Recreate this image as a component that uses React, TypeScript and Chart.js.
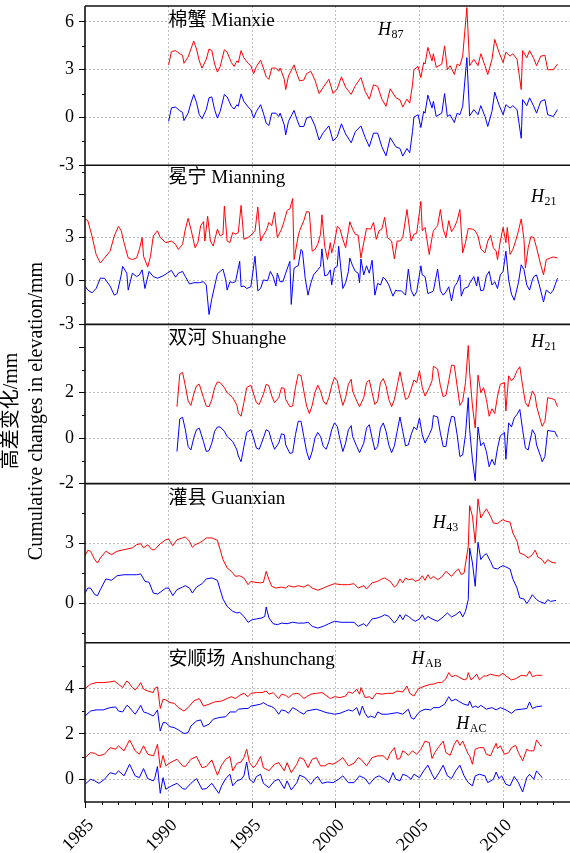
import React, { useEffect, useRef } from 'react';
import { Chart, registerables } from 'chart.js';

Chart.register(...registerables);

// ---------- axes ----------
const BASE_YEAR = 1985; // month indices below are counted from Jan 1985
const X_MIN = 1985;
const X_MAX = 2014;
const X_TICKS = [1985, 1990, 1995, 2000, 2005, 2010];

// ---------- panel 1: 棉蟹 Mianxie ----------
const mianxieMonths = [60,62,65,68,70,71,74,76,78,80,82,84,87,89,91,93,95,97,100,102,105,107,109,110,112,114,117,119,121,123,126,128,130,132,134,137,139,140,143,144,146,150,152,154,157,159,162,165,168,171,175,178,181,184,187,191,194,198,201,204,207,210,213,216,219,223,226,228,231,233,235,236,239,241,243,244,246,249,250,252,254,256,258,260,262,265,267,269,271,274,276,279,282,284,287,289,292,294,297,300,302,305,307,310,313,314,317,319,322,324,327,330,332,336,339];
const mianxieRed = [3.3,4.14,4.2,4.0,3.9,3.4,3.8,4.3,4.8,4.3,3.55,3.1,3.65,4.3,4.2,3.35,2.85,3.2,4.25,4.1,3.45,3.2,3.55,3.45,4.2,3.75,3.4,3.25,2.75,3.2,3.6,3.1,2.55,2.4,3.1,3.1,2.9,3.1,2.4,1.75,2.6,3.3,2.75,2.3,2.35,2.75,2.9,2.35,1.5,1.9,2.4,1.5,1.8,2.55,1.9,1.45,2.0,2.5,1.65,1.15,2.05,1.95,1.15,0.7,1.8,1.25,1.1,0.65,1.15,0.9,2.05,3.0,3.2,2.5,3.45,3.35,4.4,3.55,4.0,3.15,3.25,3.35,4.5,3.0,3.25,2.7,3.35,3.25,3.85,6.9,3.25,3.65,3.25,4.0,3.25,2.7,3.65,4.9,4.1,3.45,4.1,3.85,4.0,3.65,1.75,4.2,3.75,4.2,3.7,3.25,3.85,3.9,3.0,3.0,3.35];
const mianxieBlue = [-0.25,0.6,0.65,0.42,0.32,-0.2,0.27,0.9,1.44,0.95,0.17,-0.08,0.49,1.23,1.29,0.49,-0.04,0.38,1.44,1.29,0.7,0.53,0.8,0.7,1.48,1.01,0.66,0.49,-0.04,0.38,0.8,0.27,-0.36,-0.5,0.27,0.27,0.06,0.27,-0.47,-1.1,-0.25,0.44,-0.1,-0.57,-0.57,-0.04,0.06,-0.53,-1.42,-0.95,-0.53,-1.48,-1.2,-0.4,-1.04,-1.59,-0.89,-0.53,-1.25,-1.84,-0.99,-0.99,-1.84,-2.41,-1.27,-1.84,-1.95,-2.43,-1.95,-2.22,-0.89,0.02,0.17,-0.63,0.38,0.27,1.4,0.59,1.01,0.06,0.17,0.27,1.5,0.06,0.17,-0.32,0.27,0.17,0.7,3.76,0.1,0.49,0.17,0.74,0.06,-0.57,0.38,1.59,0.8,0.17,0.8,0.59,0.74,0.49,-1.31,1.12,0.74,1.23,0.7,0.27,1.01,1.12,0.17,0.06,0.49];

// ---------- panel 2: 冕宁 Mianning ----------
const mianningRedMonths = [0,2,5,8,11,14,18,21,24,26,28,31,34,37,39,41,42,45,47,49,52,54,58,62,65,67,70,72,74,76,79,81,83,85,86,88,90,92,95,97,99,100,102,104,106,108,110,112,114,117,119,122,124,126,128,130,132,134,136,138,141,143,145,147,149,150,153,154,157,159,161,163,165,167,169,170,172,174,176,177,179,181,183,185,187,189,190,192,194,196,198,200,202,205,207,209,211,213,215,217,220,222,224,226,228,231,234,236,238,241,242,244,247,249,250,253,255,257,259,261,263,265,267,269,271,273,275,278,280,282,284,287,289,291,293,295,296,298,300,302,303,305,307,309,311,313,315,316,318,320,322,324,327,329,331,334,336,339];
const mianningRed = [4.29,4.17,3.11,1.83,1.24,1.59,2.06,3.11,3.77,3.47,2.65,1.59,1.48,1.59,2.18,3.0,1.71,0.96,1.71,3.11,3.47,3.0,2.65,2.76,2.53,2.18,2.53,3.58,4.33,3.58,2.3,2.65,3.82,4.1,2.76,4.47,2.76,2.41,3.58,3.11,3.23,5.18,2.76,2.65,3.35,3.23,3.35,5.22,2.88,3.0,3.16,3.47,5.11,2.76,3.16,3.47,4.05,3.82,4.75,3.0,3.58,4.17,4.87,4.99,5.69,1.48,3.11,3.47,4.17,4.8,4.75,2.06,2.18,2.53,3.23,4.57,2.41,1.48,2.65,1.94,2.65,3.77,3.58,2.88,2.3,3.47,4.1,3.58,3.23,3.16,1.59,2.65,3.63,3.58,4.05,2.88,3.47,3.58,4.4,3.0,2.76,1.52,2.76,2.76,3.0,4.94,2.76,3.23,3.3,5.5,3.47,3.7,1.83,3.0,3.47,3.82,4.94,3.58,3.0,4.17,3.4,3.7,4.17,4.94,1.94,2.65,3.63,3.58,3.47,3.11,2.22,1.94,2.76,3.16,2.3,2.06,1.48,2.76,3.7,2.65,3.7,1.83,2.18,2.76,3.47,4.29,2.88,0.89,2.3,3.07,3.0,2.3,1.12,0.42,1.48,1.59,1.66,1.59];
const mianningBlueMonths = [0,2,5,8,11,14,18,21,23,26,27,30,31,34,37,39,41,43,46,49,52,56,59,62,65,67,70,72,75,78,82,85,87,89,91,95,97,99,101,102,104,106,108,111,112,114,116,119,122,124,126,128,131,133,135,137,138,140,142,144,147,148,150,152,153,155,156,158,160,162,164,167,169,170,172,174,176,177,179,181,182,185,187,189,190,192,194,196,197,198,200,202,204,206,208,210,212,214,216,218,221,223,224,227,230,232,234,236,238,241,242,244,246,249,250,253,255,257,259,261,263,265,267,269,270,272,275,276,279,281,282,284,286,288,290,292,294,296,298,300,302,304,306,308,311,313,315,317,319,321,322,324,326,329,331,334,336,339];
const mianningBlue = [-0.35,-0.63,-0.82,-0.52,0.19,0.19,-0.35,-0.98,-0.87,0.42,1.01,0.54,-0.63,0.54,0.3,0.42,0.77,-0.52,0.66,0.3,0.19,0.35,0.54,0.73,0.26,0.54,0.66,0.3,-0.21,-0.12,-0.12,-0.05,-0.28,-2.32,-1.22,0.49,0.66,0.82,0.07,-0.63,-0.05,-0.12,-0.05,1.36,-0.4,-0.35,-0.52,-0.4,1.71,-0.68,-0.52,0.07,0.02,0.66,0.3,-0.35,0.54,-0.05,-0.05,0.54,1.36,-1.62,0.89,1.01,1.05,2.18,2.06,0.19,-0.98,-0.16,0.42,0.77,1.01,2.22,0.35,0.42,0.77,-0.28,0.89,1.01,2.41,-0.52,-0.12,0.66,1.59,1.05,0.66,0.54,-0.12,1.52,0.42,1.05,0.54,1.43,-0.98,-0.16,-0.28,0.26,0.07,-0.28,-1.05,-0.63,-0.68,-0.68,-0.98,0.82,-0.63,-1.05,-0.75,1.05,0.42,0.3,-0.87,-0.75,-0.68,0.82,-0.68,-0.98,-0.75,-0.4,-1.38,-0.4,-0.12,0.42,-1.05,-0.52,-0.4,-0.16,0.3,-0.35,0.3,-0.68,-0.63,0.35,0.66,-0.28,-0.05,-0.52,0.42,0.66,2.06,0.07,-0.91,-1.33,-0.12,1.12,0.77,-0.28,-0.63,0.07,0.3,0.42,-0.28,-1.45,-0.63,-0.87,-0.63,0.19];

// ---------- panel 3: 双河 Shuanghe ----------
const shuangheMonths = [66,68,70,72,74,76,78,80,82,85,87,89,91,93,95,97,100,102,106,109,110,112,114,116,119,121,123,125,128,130,132,134,136,139,141,143,144,147,149,151,153,155,157,159,161,163,165,167,169,171,173,175,177,179,181,183,185,187,189,191,192,195,197,200,202,204,206,208,210,212,214,216,218,220,222,224,226,228,230,232,234,236,238,240,242,244,247,249,250,253,255,257,259,261,263,265,267,269,271,273,275,276,278,280,282,284,286,288,290,292,294,296,298,301,302,304,306,308,310,312,314,316,318,321,323,324,327,328,330,332,335,337,339];
const shuangheRed = [1.38,2.81,2.89,2.3,1.63,1.44,1.93,2.3,2.37,1.78,1.41,1.38,1.7,2.22,2.47,2.44,2.22,2.0,1.78,1.44,1.11,0.96,1.56,2.22,2.33,1.93,1.56,1.48,1.93,2.37,2.3,1.85,1.56,1.78,2.22,2.18,1.7,1.38,1.41,2.22,2.81,2.74,2.07,1.41,1.08,1.44,2.0,2.33,2.07,1.63,1.48,1.78,2.3,2.67,2.52,1.93,1.44,1.78,2.37,2.59,2.07,1.63,1.38,1.78,2.44,2.55,2.0,1.48,1.63,2.44,2.62,2.3,1.7,1.38,1.7,2.3,2.92,2.3,1.7,1.78,2.15,2.56,2.44,2.96,2.22,1.85,2.22,2.52,3.16,3.04,2.3,1.82,1.88,2.52,3.21,3.19,2.3,1.44,1.63,2.44,4.07,2.89,1.41,0.44,2.77,2.0,2.22,1.7,0.96,1.29,1.08,1.85,2.37,2.44,1.19,2.74,2.52,2.67,2.96,3.14,2.3,1.56,1.38,2.07,1.85,1.41,0.74,0.52,0.74,1.78,1.73,1.7,1.38];
const shuangheBlue = [-0.59,0.84,0.92,0.37,-0.37,-0.52,0.0,0.37,0.44,-0.15,-0.59,-0.55,-0.22,0.3,0.49,0.49,0.3,0.07,-0.15,-0.52,-0.79,-1.04,-0.37,0.25,0.37,0.0,-0.44,-0.49,0.0,0.37,0.3,-0.15,-0.49,-0.22,0.19,0.15,-0.3,-0.67,-0.64,0.15,0.74,0.74,0.07,-0.59,-0.96,-0.59,0.0,0.25,0.07,-0.37,-0.49,-0.15,0.37,0.67,0.52,-0.07,-0.59,-0.22,0.37,0.55,0.07,-0.37,-0.64,-0.22,0.44,0.59,0.0,-0.52,-0.37,0.44,0.67,0.3,-0.3,-0.64,-0.34,0.3,0.93,0.3,-0.34,-0.3,0.15,0.49,0.37,0.89,0.15,-0.22,0.15,0.44,0.99,0.93,0.22,-0.37,-0.37,0.44,0.96,0.93,0.15,-0.81,-0.74,0.15,1.78,0.37,-0.96,-1.88,0.49,-0.34,-0.19,-0.59,-1.26,-0.93,-1.19,-0.44,0.1,0.25,-0.93,0.67,0.49,0.89,1.04,1.26,0.37,-0.44,-0.52,0.37,0.15,-0.3,-0.81,-1.04,-0.81,0.34,0.3,0.3,0.04];

// ---------- panel 4: 灌县 Guanxian ----------
const guanxianRedMonths = [0,2,4,7,9,11,15,19,23,28,34,37,40,42,45,48,50,54,58,60,63,66,70,72,75,77,79,82,84,87,91,95,97,99,102,105,108,111,114,117,119,122,126,128,130,132,134,137,141,144,146,150,153,157,160,163,167,171,175,179,184,189,193,196,200,202,206,210,213,215,219,222,224,226,228,230,232,235,237,240,242,244,246,248,250,253,256,259,263,266,268,270,272,275,276,278,280,282,284,286,288,291,293,296,298,300,302,305,307,310,312,315,318,321,323,325,328,330,332,335,338];
const guanxianRed = [2.38,2.65,2.6,2.18,2.01,2.26,2.6,2.43,2.6,2.68,2.77,2.93,2.98,2.77,2.93,2.68,2.68,2.98,3.18,3.22,2.88,3.18,3.27,3.32,3.1,2.8,2.93,3.02,3.1,3.27,3.27,3.15,2.68,2.18,1.76,1.59,1.34,1.37,1.26,0.92,1.09,1.04,1.01,1.04,1.59,1.17,0.84,0.75,0.8,0.75,0.87,0.8,0.87,0.8,0.92,0.75,0.64,0.75,0.87,0.97,0.92,0.92,0.97,0.75,0.87,0.7,1.01,1.09,1.21,1.26,1.09,0.8,0.92,1.21,1.01,1.26,1.17,1.21,1.09,1.17,1.37,1.14,1.42,1.21,1.34,1.17,1.31,1.59,1.34,1.59,1.71,1.42,1.51,2.85,4.89,4.36,3.02,5.23,4.27,4.52,4.73,4.36,4.02,3.99,4.11,4.19,4.11,4.06,3.52,3.1,2.51,2.43,2.26,2.43,2.65,2.31,2.18,1.98,2.18,2.04,2.01];
const guanxianBlueMonths = [0,2,4,7,9,11,15,19,23,28,34,37,40,43,46,49,52,54,58,60,63,66,70,72,75,77,80,84,87,91,95,97,99,102,106,109,111,114,117,120,123,127,129,130,132,135,138,141,145,149,153,157,160,163,167,171,175,179,184,189,193,196,200,202,206,210,213,215,218,222,224,226,228,230,232,235,237,240,242,244,246,249,253,257,260,263,266,269,271,273,275,276,278,280,282,284,286,288,291,293,296,298,300,302,305,307,310,312,315,317,319,321,324,326,330,332,334,338];
const guanxianBlue = [0.5,0.75,0.75,0.42,0.37,0.67,1.21,1.14,1.37,1.42,1.42,1.42,1.46,1.09,1.04,0.5,0.45,0.54,0.75,0.75,0.37,0.67,0.8,0.87,0.75,0.5,0.8,0.97,1.21,1.26,1.14,0.67,0.2,-0.17,-0.42,-0.5,-0.47,-0.67,-0.97,-0.84,-0.8,-0.75,-0.67,-0.2,-0.75,-1.04,-1.09,-1.01,-1.04,-0.97,-1.01,-1.01,-0.97,-1.17,-1.26,-1.17,-1.04,-0.92,-0.97,-0.97,-0.97,-1.17,-1.04,-1.17,-0.8,-0.75,-0.67,-0.59,-0.67,-1.01,-0.84,-0.59,-0.84,-0.59,-0.67,-0.84,-0.92,-0.8,-0.59,-0.84,-0.67,-0.8,-0.92,-0.7,-0.5,-0.7,-0.59,-0.42,-0.7,-0.42,0.17,2.77,2.01,0.84,3.05,2.18,2.38,2.48,2.09,1.76,1.71,1.81,1.88,1.81,1.71,1.21,0.75,0.25,0.2,-0.03,0.17,0.42,0.17,0.08,-0.03,0.17,0.08,0.13];

// ---------- panel 5: 安顺场 Anshunchang ----------
const abRedMonths = [0,4,8,13,18,21,24,27,30,31,34,36,38,40,42,45,49,50,52,54,56,58,61,64,67,71,74,78,82,85,89,93,98,102,105,108,111,114,117,119,123,127,130,132,135,139,141,144,146,149,152,154,157,159,162,166,170,173,176,179,183,187,189,192,195,197,198,201,204,206,209,213,217,221,224,228,231,233,236,239,241,244,248,250,253,256,259,261,263,266,269,272,274,275,277,279,281,283,286,288,291,294,297,300,302,306,309,313,317,319,321,324,328];
const abRed = [3.99,4.18,4.25,4.25,4.28,4.32,4.18,4.03,4.32,4.28,4.03,3.93,4.07,4.25,3.96,3.88,3.81,3.99,4.06,3.11,3.52,3.49,3.37,3.34,3.15,3.0,3.15,3.44,3.55,3.22,3.3,3.4,3.44,3.55,3.63,3.55,3.69,3.78,3.63,3.78,3.81,3.81,3.88,3.74,3.81,3.55,3.74,3.69,3.59,3.74,3.78,3.74,3.55,3.63,3.74,3.78,3.81,3.69,3.55,3.63,3.59,3.66,3.84,3.78,3.96,3.74,4.03,3.59,3.63,3.52,3.78,3.74,3.78,3.78,3.88,3.84,4.1,3.78,3.66,3.96,4.03,4.1,4.18,4.18,4.25,4.25,4.42,4.69,4.51,4.57,4.47,4.37,4.42,4.69,4.37,4.47,4.62,4.37,4.54,4.54,4.62,4.57,4.54,4.66,4.54,4.37,4.42,4.57,4.54,4.76,4.51,4.57,4.57];
const abBlueMonths = [0,4,8,13,18,22,24,27,30,31,34,36,38,40,42,45,49,50,52,54,56,58,61,64,67,71,74,76,80,83,85,89,92,96,101,104,108,110,114,117,119,122,126,128,131,134,136,139,141,144,146,149,152,154,157,159,163,166,170,173,176,179,183,187,189,192,195,197,199,201,203,205,208,210,213,217,221,224,228,232,234,236,239,241,244,248,250,254,258,261,263,266,269,272,275,276,278,280,282,284,288,292,295,298,302,306,309,313,317,319,321,324,328];
const abBlue = [2.78,3.0,3.05,3.05,3.15,3.18,3.0,2.96,3.25,3.22,3.0,2.86,3.05,3.25,2.96,2.9,2.78,2.86,3.05,2.12,2.49,2.49,2.31,2.27,2.17,2.01,2.05,2.34,2.56,2.61,2.31,2.42,2.64,2.71,2.75,2.96,2.96,3.08,3.11,3.11,3.22,3.25,3.3,3.37,3.25,3.19,3.11,2.86,3.05,3.0,2.9,3.15,3.05,2.96,2.86,3.0,3.05,3.08,3.0,2.93,2.9,2.86,2.9,3.0,3.05,3.0,3.15,2.81,3.22,2.9,2.71,2.78,2.71,2.96,2.86,2.86,2.9,2.93,2.86,3.08,2.71,2.64,2.9,3.0,3.08,3.05,3.15,3.15,3.3,3.63,3.44,3.52,3.4,3.3,3.25,3.44,3.15,3.22,3.15,3.25,3.08,3.15,3.05,3.15,3.05,2.9,3.05,3.08,3.11,3.4,3.11,3.19,3.22];
const acRedMonths = [0,4,7,10,14,18,22,24,28,32,36,39,42,45,49,50,52,54,56,58,62,66,70,72,76,80,84,87,91,95,98,101,104,106,109,112,114,116,118,121,123,126,128,132,136,139,143,145,148,152,154,157,160,163,166,169,172,175,178,182,185,189,193,196,198,202,206,210,214,217,219,222,224,226,228,230,232,235,238,241,244,247,249,251,254,257,259,262,265,267,269,271,275,276,278,280,283,286,288,291,293,295,296,298,301,304,306,309,311,314,317,319,322,324,327,328];
const acRed = [0.95,1.17,1.14,1.03,1.1,1.39,1.32,1.47,1.25,1.73,1.25,1.1,1.47,1.1,1.03,1.17,1.54,0.51,1.05,0.59,0.76,0.88,0.59,0.56,0.88,1.0,0.51,0.56,0.85,0.18,0.62,0.88,1.0,0.37,0.7,0.76,0.95,1.32,0.73,0.51,0.66,1.0,0.51,0.37,0.66,0.73,0.37,0.73,0.29,0.66,0.95,0.88,0.51,0.88,0.95,0.59,0.59,0.7,0.66,0.81,0.95,0.59,0.7,0.95,0.88,0.59,0.95,1.03,1.03,0.85,1.14,1.39,0.88,0.91,1.25,1.17,1.05,1.25,1.1,1.32,1.68,1.61,0.91,1.17,1.44,1.68,1.17,1.05,1.54,1.73,1.49,1.68,1.1,1.03,0.66,1.32,1.39,1.39,1.1,1.03,1.32,1.58,1.35,1.47,1.1,1.17,1.39,1.49,1.17,0.81,1.32,1.25,1.25,1.73,1.47,1.47];
const acBlueMonths = [0,4,7,10,14,18,22,24,28,32,36,39,42,45,49,50,52,54,56,58,62,66,70,72,76,80,84,87,91,96,98,101,104,106,109,112,114,116,118,121,123,126,128,132,136,139,143,145,148,152,154,158,162,165,167,170,174,178,182,185,189,193,197,201,204,208,211,215,218,221,223,226,228,231,234,236,240,243,246,249,251,254,257,260,263,266,269,272,275,278,280,283,287,289,293,295,297,299,302,305,308,311,314,317,319,322,324,327,328];
const acBlue = [-0.22,0.0,-0.07,-0.18,0.0,0.29,0.22,0.37,0.15,0.66,0.15,0.07,0.47,0.03,-0.07,0.03,0.56,-0.62,0.07,-0.44,-0.29,-0.18,-0.41,-0.44,-0.18,0.03,-0.44,-0.41,-0.18,-0.62,-0.29,0.03,0.22,-0.29,-0.07,0.0,0.15,0.76,0.0,-0.15,0.12,0.22,-0.18,-0.37,-0.07,0.0,-0.41,-0.07,-0.47,-0.15,0.18,0.07,-0.22,0.03,0.12,-0.18,-0.12,-0.15,0.0,0.15,-0.15,-0.15,0.15,0.03,-0.22,0.07,0.15,0.0,-0.15,0.29,0.0,-0.07,0.22,0.15,0.0,0.22,0.07,0.37,0.62,0.22,0.0,0.29,0.62,0.15,0.03,0.37,0.62,0.15,-0.15,-0.29,0.15,0.22,0.15,-0.15,0.0,0.32,0.03,0.15,-0.22,-0.29,0.12,-0.15,-0.56,0.07,0.22,0.0,0.37,0.15,0.07];

// ---------- panel settings ----------
const PANEL_IDS = ['y1', 'y2', 'y3', 'y4', 'y5'];
const panelNames = ['棉蟹 Mianxie', '冕宁 Mianning', '双河 Shuanghe', '灌县 Guanxian', '安顺场 Anshunchang'];
const panelNameValues = [6.04, 7.1, 4.37, 5.24, 5.23];
const panelMin = [-3, -3, -2, -2, -1];
const panelMax = [7, 8, 5, 6, 6];
const panelMajorTicks = [[6, 3, 0, -3], [6, 3, 0, -3], [4, 2, 0, -2], [3, 0], [4, 2, 0]];
const panelHiddenLabels = [[], [6], [4], [], []];
const panelGridValues = [[6, 3, 0], [3, 0], [2, 0], [3, 0], [4, 2, 0]];
const panelMinorTicks = [[4.5, 1.5, -1.5], [7.5, 4.5, 1.5, -1.5], [3, 1, -1], [4.5, 1.5, -1.5], [5, 3, 1]];

// annotation: panel index, year, value (baseline), subscript
const annoPanel = [0, 1, 2, 3, 4, 4];
const annoYear = [2002.52, 2011.67, 2011.67, 2005.8, 2004.53, 2007.2];
const annoValue = [5.17, 5.49, 4.01, 3.78, 5.05, 2.2];
const annoSub = ['87', '21', '21', '43', 'AB', 'AC'];

const RED = '#ff0000';
const BLUE = '#0000ff';
const SERIF = '"Liberation Serif", "Times New Roman", serif';
const MIXED = '"Liberation Serif", "Noto Sans CJK SC", serif';
const GRID_COLOR = '#bdbdbd';

function toPoints(months: number[], values: number[]) {
  return months.map((m, i) => ({ x: BASE_YEAR + m / 12, y: values[i] }));
}

function line(ds: any, color: string, axis: string) {
  return {
    data: ds,
    borderColor: color,
    backgroundColor: color,
    borderWidth: 1,
    pointRadius: 0,
    tension: 0,
    fill: false,
    yAxisID: axis,
  };
}

const decorPlugin = {
  id: 'decor',
  afterDraw(chart: any) {
    const { ctx, chartArea: a } = chart;
    const xs = chart.scales.x;
    ctx.save();
    ctx.strokeStyle = '#000';
    ctx.lineWidth = 1;
    // minor y ticks
    PANEL_IDS.forEach((id, i) => {
      const s = chart.scales[id];
      panelMinorTicks[i].forEach((v) => {
        const y = Math.round(s.getPixelForValue(v)) + 0.5;
        ctx.beginPath();
        ctx.moveTo(a.left - 3, y);
        ctx.lineTo(a.left, y);
        ctx.stroke();
      });
    });
    // minor x ticks
    for (let yr = 1986; yr <= 2013; yr++) {
      if (yr % 5 === 0) continue;
      const x = Math.round(xs.getPixelForValue(yr)) + 0.5;
      ctx.beginPath();
      ctx.moveTo(x, a.bottom);
      ctx.lineTo(x, a.bottom + 3);
      ctx.stroke();
    }
    // frame lines
    ctx.lineWidth = 1.6;
    ctx.strokeStyle = '#111';
    PANEL_IDS.forEach((id) => {
      const s = chart.scales[id];
      ctx.beginPath();
      ctx.moveTo(a.left, s.top);
      ctx.lineTo(a.right, s.top);
      ctx.stroke();
    });
    ctx.beginPath();
    ctx.moveTo(a.left, a.bottom);
    ctx.lineTo(a.right, a.bottom);
    ctx.stroke();
    ctx.beginPath();
    ctx.moveTo(a.left, a.top);
    ctx.lineTo(a.left, a.bottom + 0.8);
    ctx.stroke();

    // panel names
    ctx.fillStyle = '#000';
    ctx.textAlign = 'left';
    ctx.textBaseline = 'middle';
    ctx.font = '19px ' + MIXED;
    PANEL_IDS.forEach((id, i) => {
      const s = chart.scales[id];
      ctx.fillText(panelNames[i], xs.getPixelForValue(1990), s.getPixelForValue(panelNameValues[i]));
    });

    // H annotations
    ctx.textBaseline = 'alphabetic';
    annoSub.forEach((sub, i) => {
      const s = chart.scales[PANEL_IDS[annoPanel[i]]];
      const x = xs.getPixelForValue(annoYear[i]);
      const y = s.getPixelForValue(annoValue[i]);
      ctx.font = 'italic 18px ' + SERIF;
      ctx.fillText('H', x, y);
      const w = ctx.measureText('H').width;
      ctx.font = '12px ' + SERIF;
      ctx.fillText(sub, x + w + 0.5, y + 3);
    });

    // y-axis titles
    ctx.save();
    ctx.translate(12, 411);
    ctx.rotate(-Math.PI / 2);
    ctx.textAlign = 'center';
    ctx.textBaseline = 'middle';
    ctx.font = '20px ' + MIXED;
    ctx.fillText('高差变化/mm', 0, 0);
    ctx.restore();
    ctx.save();
    ctx.translate(37, 411);
    ctx.rotate(-Math.PI / 2);
    ctx.textAlign = 'center';
    ctx.textBaseline = 'middle';
    ctx.font = '20px ' + SERIF;
    ctx.fillText('Cumulative changes in elevation/mm', 0, 0);
    ctx.restore();

    ctx.restore();
  },
};

function buildYScale(i: number) {
  return {
    type: 'linear',
    position: 'left',
    stack: 'panels',
    stackWeight: 1,
    weight: 5 - i,
    min: panelMin[i],
    max: panelMax[i],
    afterBuildTicks: (s: any) => {
      s.ticks = panelMajorTicks[i].map((v) => ({ value: v }));
    },
    afterFit: (s: any) => {
      s.width = 85;
      s.paddingTop = 0;
      s.paddingBottom = 0;
    },
    border: { display: false, dash: [2, 2] },
    grid: {
      color: (c: any) => (c.tick && panelGridValues[i].includes(c.tick.value) ? GRID_COLOR : 'rgba(0,0,0,0)'),
      lineWidth: 1,
      tickLength: 6,
      tickColor: '#000',
      tickWidth: 1,
      tickBorderDash: [],
    },
    ticks: {
      autoSkip: false,
      padding: 5,
      color: '#000',
      font: { family: SERIF, size: 18 },
      callback: (v: any) => (panelHiddenLabels[i].includes(v) ? '' : String(v)),
    },
  };
}

export default function App() {
  const ref = useRef<HTMLCanvasElement | null>(null);

  useEffect(() => {
    if (!ref.current) return;
    const datasets = [
      line(toPoints(mianxieMonths, mianxieRed), RED, 'y1'),
      line(toPoints(mianxieMonths, mianxieBlue), BLUE, 'y1'),
      line(toPoints(mianningRedMonths, mianningRed), RED, 'y2'),
      line(toPoints(mianningBlueMonths, mianningBlue), BLUE, 'y2'),
      line(toPoints(shuangheMonths, shuangheRed), RED, 'y3'),
      line(toPoints(shuangheMonths, shuangheBlue), BLUE, 'y3'),
      line(toPoints(guanxianRedMonths, guanxianRed), RED, 'y4'),
      line(toPoints(guanxianBlueMonths, guanxianBlue), BLUE, 'y4'),
      line(toPoints(abRedMonths, abRed), RED, 'y5'),
      line(toPoints(abBlueMonths, abBlue), BLUE, 'y5'),
      line(toPoints(acRedMonths, acRed), RED, 'y5'),
      line(toPoints(acBlueMonths, acBlue), BLUE, 'y5'),
    ];
    const scales: any = {
      x: {
        type: 'linear',
        position: 'bottom',
        min: X_MIN,
        max: X_MAX,
        afterBuildTicks: (s: any) => {
          s.ticks = X_TICKS.map((v) => ({ value: v }));
        },
        afterFit: (s: any) => {
          s.height = 51;
          s.paddingLeft = 0;
          s.paddingRight = 0;
        },
        border: { display: false, dash: [2, 2] },
        grid: {
          color: (c: any) => (c.tick && c.tick.value !== X_MIN ? GRID_COLOR : 'rgba(0,0,0,0)'),
          lineWidth: 1,
          tickLength: 6,
          tickColor: '#000',
          tickWidth: 1,
          tickBorderDash: [],
        },
        ticks: {
          autoSkip: false,
          maxRotation: 45,
          minRotation: 45,
          padding: 7,
          labelOffset: 6,
          color: '#000',
          font: { family: SERIF, size: 18 },
          callback: (v: any) => String(v),
        },
      },
    };
    PANEL_IDS.forEach((id, i) => {
      scales[id] = buildYScale(i);
    });

    const chart = new Chart(ref.current, {
      type: 'line',
      data: { datasets },
      options: {
        responsive: false,
        animation: false,
        devicePixelRatio: 1,
        events: [],
        layout: { padding: { top: 6, left: 0, right: 0, bottom: 0 } },
        plugins: { legend: { display: false }, tooltip: { enabled: false }, title: { display: false } },
        scales,
      },
      plugins: [decorPlugin],
    } as any);
    return () => chart.destroy();
  }, []);

  return (
    <div style={{ position: 'fixed', left: 0, top: 0, width: 570, height: 853, background: '#fff' }}>
      <canvas ref={ref} width={570} height={853} style={{ width: 570, height: 853, display: 'block' }} />
    </div>
  );
}
